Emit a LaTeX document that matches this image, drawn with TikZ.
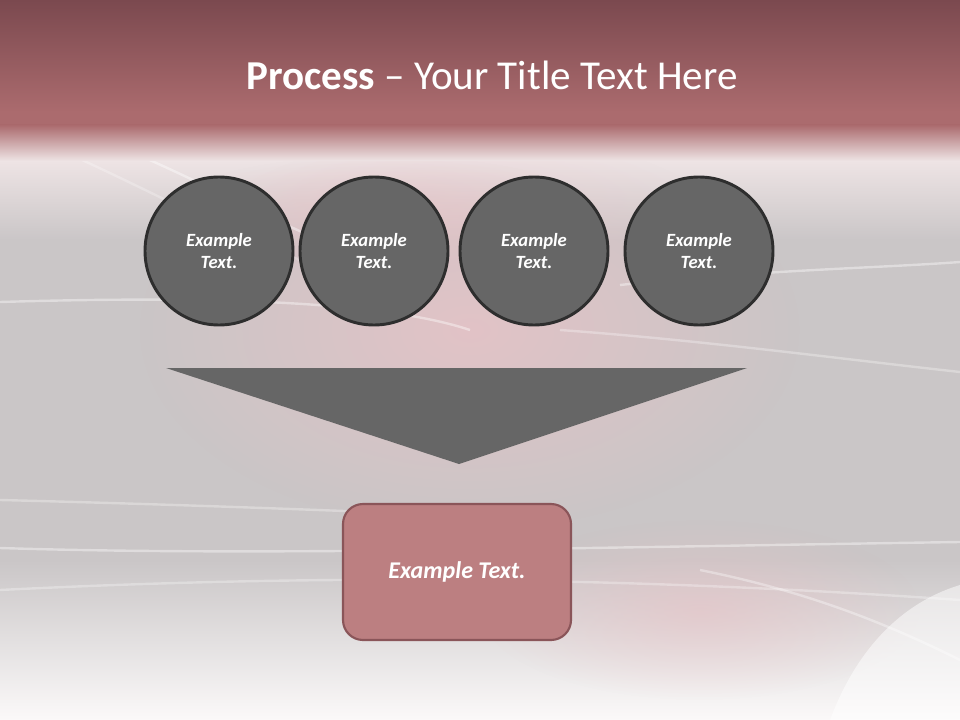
\documentclass[tikz,border=0pt]{standalone}
\usepackage{fontspec}
\setmainfont{Carlito}
\usetikzlibrary{fadings}
\definecolor{bandtop}{HTML}{7B494F}
\definecolor{bandbot}{HTML}{AB6B6E}
\definecolor{slidegray}{HTML}{CAC6C7}
\definecolor{slidelight}{HTML}{EEE4E5}
\definecolor{slidewhite}{HTML}{FBF9F9}
\definecolor{glowpink}{HTML}{E8C2C6}
\definecolor{bubblefill}{HTML}{666666}
\definecolor{bubbleline}{HTML}{2E2E2E}
\definecolor{boxfill}{HTML}{BC7F81}
\definecolor{boxline}{HTML}{8A5559}
\tikzfading[name=softglow,inner color=transparent!0,outer color=transparent!100]
\begin{document}
\begin{tikzpicture}[x=0.75pt,y=-0.75pt,
      bubble/.style={circle,draw=bubbleline,line width=2.2pt,fill=bubblefill,
        minimum size=111pt,inner sep=0pt,align=center,text=white,
        font=\fontsize{14}{17}\selectfont\bfseries\itshape},
      resultbox/.style={rectangle,rounded corners=15pt,draw=boxline,line width=1.6pt,
        fill=boxfill,minimum width=171pt,minimum height=102pt,text=white,
        font=\fontsize{18}{22}\selectfont\bfseries\itshape},
      swoosh/.style={draw=white,opacity=0.4,line width=1.8pt}]
      \useasboundingbox (0,0) rectangle (960,720);
      % background
      \shade[top color=slidelight,bottom color=slidegray] (0,160) rectangle (960,240);
      \fill[slidegray] (0,239) rectangle (960,561);
      \shade[top color=slidegray,bottom color=slidewhite] (0,560) rectangle (960,720);
      \fill[glowpink,path fading=softglow,opacity=0.8] (470,330) ellipse (330 and 200);
      \fill[glowpink,path fading=softglow,opacity=0.6] (380,215) ellipse (220 and 60);
      \fill[glowpink,path fading=softglow,opacity=0.6] (700,610) ellipse (220 and 90);
      % swooshes
      \path[swoosh] (90,135) .. controls (180,170) and (250,210) .. (320,240);
      \path[swoosh,opacity=0.25] (60,150) .. controls (150,190) and (220,230) .. (300,260);
      \path[swoosh] (0,302) .. controls (200,296) and (380,300) .. (470,330);
      \path[swoosh] (620,285) .. controls (760,270) and (880,268) .. (960,262);
      \path[swoosh,opacity=0.3] (560,330) .. controls (700,340) and (850,360) .. (960,372);
      \path[swoosh] (0,548) .. controls (250,556) and (560,548) .. (960,542);
      \path[swoosh,opacity=0.3] (0,500) .. controls (200,505) and (380,512) .. (560,520);
      \path[swoosh,opacity=0.3] (0,590) .. controls (300,575) and (600,575) .. (960,600);
      \path[swoosh,opacity=0.35] (700,570) .. controls (800,590) and (880,620) .. (960,660);
      \fill[white,opacity=0.5] (830,720) .. controls (860,640) and (910,600) .. (960,585)
        -- (960,720) -- cycle;
      % title band
      \shade[top color=bandtop,bottom color=bandbot] (0,0) rectangle (960,112);
      \fill[bandbot] (0,111) rectangle (960,126);
      \shade[top color=bandbot,bottom color=slidelight] (0,125) rectangle (960,161);
      \node[text=white,font=\fontsize{30.8}{36}\selectfont] (title) at (492,75)
        {\textbf{Process} -- Your Title Text Here};
      % process steps
      \node[bubble] (stepA) at (219,251) {Example\\Text.};
      \node[bubble] (stepB) at (374,251) {Example\\Text.};
      \node[bubble] (stepC) at (534,251) {Example\\Text.};
      \node[bubble] (stepD) at (699,251) {Example\\Text.};
      \fill[bubblefill] (166,368) -- (747,368) -- (459,464) -- cycle;
      \node[resultbox] (result) at (457,572) {Example Text.};
     \end{tikzpicture}
\end{document}
